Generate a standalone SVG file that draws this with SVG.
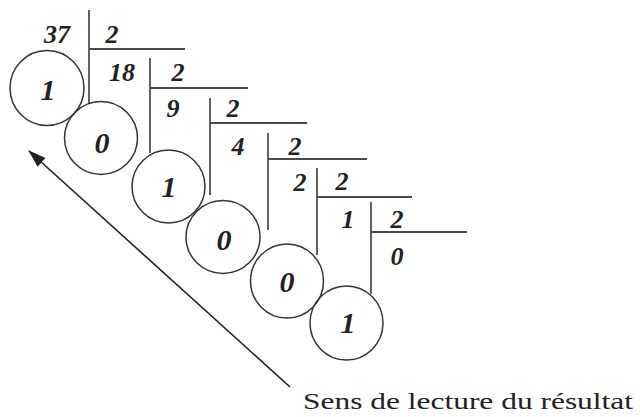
<svg xmlns="http://www.w3.org/2000/svg" width="640" height="417" viewBox="0 0 640 417">
<style>
.bg{fill:#ffffff}
.rule{stroke:#3a3a3a;stroke-width:1.6;fill:none}
.hrule{stroke:#4a4a4a;stroke-width:2;fill:none}
.circ{fill:none;stroke:#333;stroke-width:1.5}
.q{font-family:"Liberation Serif","Times New Roman",serif;font-style:italic;font-weight:bold;font-size:26px;fill:#222;text-anchor:middle}
.d{font-family:"Liberation Serif","Times New Roman",serif;font-style:italic;font-weight:bold;font-size:30px;fill:#222;text-anchor:middle}
.cap{font-family:"Liberation Serif","Times New Roman",serif;font-size:24px;fill:#222}
.arrow{stroke:#222;stroke-width:1.6;fill:none}
</style>
<defs>
<marker id="ah" viewBox="0 0 10 10" refX="9" refY="5" markerWidth="10" markerHeight="10" markerUnits="userSpaceOnUse" orient="auto">
<path d="M0,0 L10,5 L0,10 z" fill="#222"/>
</marker>
<marker id="ah2" viewBox="0 0 18 12" refX="17" refY="6" markerWidth="18" markerHeight="12" markerUnits="userSpaceOnUse" orient="auto">
<path d="M0,0 L18,6 L0,12 z" fill="#222"/>
</marker>
</defs>
<rect class="bg" x="0" y="0" width="640" height="417"/>

<g id="division-lines">
<line class="rule" x1="89" y1="10" x2="89" y2="103"/>
<line class="hrule" x1="89" y1="49" x2="185" y2="49"/>
<line class="rule" x1="150" y1="58" x2="150" y2="153"/>
<line class="hrule" x1="150" y1="88" x2="248" y2="88"/>
<line class="rule" x1="210" y1="98" x2="210" y2="195"/>
<line class="hrule" x1="210" y1="123" x2="307" y2="123"/>
<line class="rule" x1="268" y1="133" x2="268" y2="230"/>
<line class="hrule" x1="268" y1="159" x2="367" y2="159"/>
<line class="rule" x1="317" y1="168" x2="317" y2="255"/>
<line class="hrule" x1="317" y1="197" x2="412" y2="197"/>
<line class="rule" x1="371" y1="202" x2="371" y2="294"/>
<line class="hrule" x1="371" y1="232" x2="467" y2="232"/>
</g>

<g id="division-numbers">
<text class="q" x="57" y="43">37</text>
<text class="q" x="112" y="43">2</text>
<text class="q" x="122" y="81">18</text>
<text class="q" x="178" y="81">2</text>
<text class="q" x="173" y="117">9</text>
<text class="q" x="233" y="117">2</text>
<text class="q" x="238" y="155">4</text>
<text class="q" x="295" y="155">2</text>
<text class="q" x="300" y="191">2</text>
<text class="q" x="342" y="190">2</text>
<text class="q" x="348" y="228">1</text>
<text class="q" x="397" y="228">2</text>
<text class="q" x="397" y="265">0</text>
</g>

<g id="r1"><ellipse class="circ" cx="47" cy="88" rx="37" ry="37.5"/><text class="d" x="48" y="100">1</text></g>
<g id="r2"><ellipse class="circ" cx="101" cy="138" rx="36.5" ry="36.5"/><text class="d" x="102" y="153">0</text></g>
<g id="r3"><ellipse class="circ" cx="168.5" cy="186.5" rx="36.5" ry="36.5"/><text class="d" x="169" y="197">1</text></g>
<g id="r4"><ellipse class="circ" cx="223" cy="237" rx="37" ry="36.5"/><text class="d" x="224" y="250">0</text></g>
<g id="r5"><ellipse class="circ" cx="287" cy="281" rx="36.5" ry="37"/><text class="d" x="287" y="292">0</text></g>
<g id="r6"><ellipse class="circ" cx="346.5" cy="323" rx="36.5" ry="37"/><text class="d" x="348" y="333">1</text></g>

<g id="connectors">
<line class="arrow" x1="290" y1="387" x2="29" y2="151" marker-end="url(#ah2)"/>
</g>

<g id="caption">
<text class="cap" x="303" y="409" textLength="330" lengthAdjust="spacingAndGlyphs">Sens de lecture du résultat</text>
</g>
</svg>
